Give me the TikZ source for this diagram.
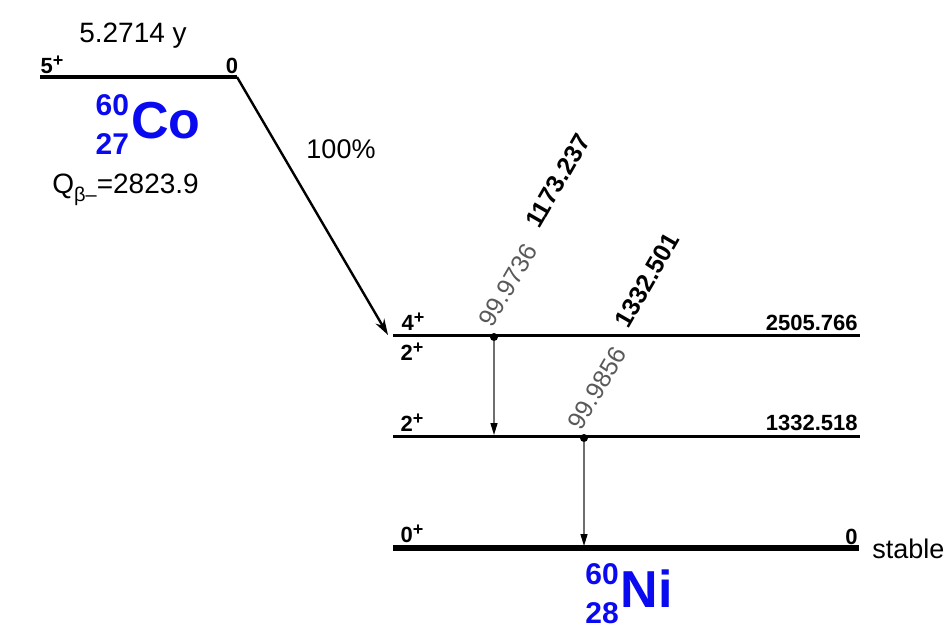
\documentclass[tikz,border=0pt]{standalone}
\usepackage{fontspec}
\setmainfont{Liberation Sans}
\usetikzlibrary{arrows.meta,positioning,calc}
\definecolor{ink}{HTML}{000000}
\definecolor{nuc}{HTML}{0A0AF0}
\definecolor{gry}{HTML}{6E6E6E}
\newcommand{\nuclide}[3]{\raisebox{2pt}{\fontsize{15}{19.3}\selectfont\begin{tabular}[c]{@{}r@{}}#1\\#2\end{tabular}}\kern1pt#3}
\newcommand{\jpi}[1]{#1\raisebox{3.5pt}{\fontsize{9}{10}\selectfont+}}
\tikzset{
  lvl/.style  ={line width=1.5pt,draw=ink},
  gnd/.style  ={line width=3pt,draw=ink},
  spin/.style ={font=\fontsize{11}{12}\selectfont\bfseries,inner sep=0pt},
  enr/.style  ={font=\fontsize{11}{12}\selectfont\bfseries,inner sep=0pt,anchor=east},
  lbl/.style  ={font=\fontsize{14}{16}\selectfont,inner sep=0pt},
  nucl/.style ={font=\fontsize{26}{30}\selectfont\bfseries,text=nuc,inner sep=0pt},
  gint/.style ={font=\fontsize{12.5}{14}\selectfont,text=black!65,rotate=60,inner sep=0pt},
  geng/.style ={font=\fontsize{12.5}{14}\selectfont\bfseries,rotate=60,inner sep=0pt},
  bet/.style  ={-{Stealth[length=8pt,width=5pt]},line width=1.2pt,ink},
  gam/.style  ={-{Triangle[length=6pt,width=3.5pt,color=ink]},line width=.75pt,draw=gry},
  dotm/.style ={circle,fill=ink,inner sep=0pt,minimum size=4pt},
}

\begin{document}
\begin{tikzpicture}[x=0.5pt,y=-0.5pt]
\useasboundingbox (0,0) rectangle (947,642);

% ===== parent 60Co (left) =====
\coordinate (co-l) at (40,77);
\coordinate (co-r) at (237,77);
\draw[lvl,line width=2pt] (co-l) -- (co-r);
\node[spin] (co-spin) at (52,65) {\jpi{5}};
\node[spin] (co-e) at (232,66) {0};
\node[lbl,anchor=base] (co-half) at (133,43) {5.2714 y};
\node[nucl] (co) at (148,127) {\nuclide{60}{27}{Co}};
\node[lbl,anchor=base west] (co-q) at (52,193) {Q\raisebox{-4pt}{\fontsize{10}{11}\selectfont β–}=2823.9};

% ===== daughter 60Ni levels (right) =====
\coordinate (l2505-l) at (393,335);
\coordinate (l2505-r) at (860,335);
\coordinate (l1332-l) at (393,436);
\coordinate (l1332-r) at (860,436);
\coordinate (l0-l) at (393,548);
\coordinate (l0-r) at (859,548);
\draw[lvl] (l2505-l) -- (l2505-r);
\draw[lvl] (l1332-l) -- (l1332-r);
\draw[gnd] (l0-l) -- (l0-r);
\node[spin] (s2505a) at (413,322) {\jpi{4}};
\node[spin] (s2505b) at (412,352) {\jpi{2}};
\node[spin] (s1332) at (412,423) {\jpi{2}};
\node[spin] (s0) at (412,534) {\jpi{0}};
\node[enr] (e2505) at (858,323) {2505.766};
\node[enr] (e1332) at (858,423) {1332.518};
\node[enr] (e0) at (858,537) {0};
\node[lbl,font=\fontsize{13.5}{15}\selectfont,anchor=base west] (stab) at (872,558) {stable};
\node[nucl] (ni) at (629,596) {\nuclide{60}{28}{Ni}};

% ===== beta feed =====
\coordinate (b-end) at (388,335);
\draw[bet] (co-r) -- (b-end);
\node[lbl,font=\fontsize{13.5}{15}\selectfont] (b-int) at (341,149) {100\%};

% ===== gammas =====
\node[dotm] (g1) at (494,337) {};
\coordinate (g1-end) at (494,435);
\draw[gam] (g1) -- (g1-end);
\node[gint] (g1-int) at (508,285) {99.9736};
\node[geng] (g1-en) at (558,181) {1173.237};

\node[dotm] (g2) at (584,438) {};
\coordinate (g2-end) at (584,546);
\draw[gam] (g2) -- (g2-end);
\node[gint] (g2-int) at (597,388) {99.9856};
\node[geng] (g2-en) at (647,280) {1332.501};
\end{tikzpicture}
\end{document}
